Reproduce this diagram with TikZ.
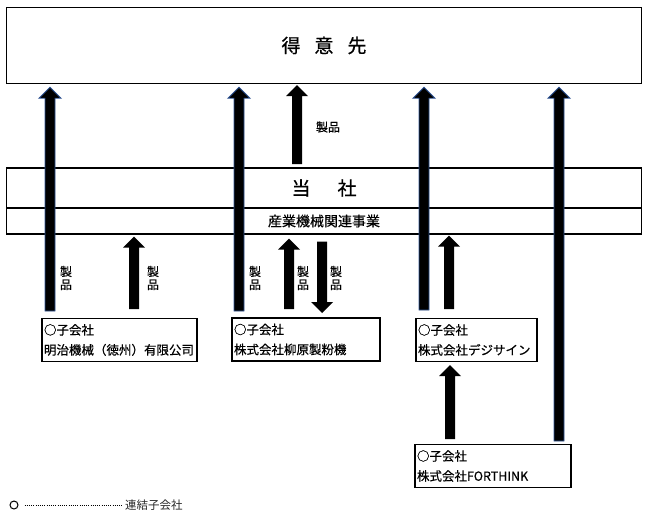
\documentclass[tikz,border=0pt]{standalone}
\usepackage{fontspec}
\setmainfont{Noto Sans CJK JP}
\newfontfamily\medfont{Noto Sans CJK JP}[FakeBold=0.5]
\usepackage{xcolor}
\usetikzlibrary{calc}
\definecolor{arrowblue}{RGB}{47,85,151}

\begin{document}
\begin{tikzpicture}[x=1pt,y=-1pt,
  box/.style={draw, line width=1.4pt, minimum width=635pt},
  sub/.style={draw, line width=1.4pt, align=left, inner sep=2pt, minimum height=43pt,
    font=\medfont\fontsize{12.5}{20}\selectfont},
  fat/.style={to path={let \p1=(\tikztostart), \p2=(\tikztotarget),
      \p3=($(\tikztotarget)!11pt!(\tikztostart)$) in
      (\x1-5pt,\y1) -- (\x1-5pt,\y3) -- (\x1-11pt,\y3) -- (\x2,\y2)
      -- (\x1+11pt,\y3) -- (\x1+5pt,\y3) -- (\x1+5pt,\y1) -- cycle}},
  bluearrow/.style={fat, fill=black, draw=arrowblue, line width=0.9pt},
  blackarrow/.style={fat, fill=black},
  vlabel/.style={align=center, inner sep=0pt, font=\medfont\fontsize{12}{13}\selectfont}]
  \useasboundingbox (0,0) rectangle (648,519);

  % boxes
  \node[box, minimum height=76pt] (tokui) at (324,45.5)
    {\medfont\fontsize{19}{19}\selectfont 得\hspace{14pt}意\hspace{14pt}先};
  \node[box, minimum height=40pt] (tosha) at (324,188)
    {\medfont\fontsize{19}{19}\selectfont 当\hspace{27pt}社};
  \node[box, minimum height=26pt, font=\medfont\fontsize{14}{14}\selectfont] (sangyo) at (324,221) {産業機械関連事業};

  \node[sub, text width=151pt] (m1) at (119.5,340) {○子会社\\明治機械（徳州）有限公司};
  \node[sub, text width=144pt] (m2) at (306,339.5) {○子会社\\株式会社柳原製粉機};
  \node[sub, text width=117pt] (m3) at (476.5,340) {○子会社\\株式会社デジサイン};
  \node[sub, text width=152pt] (m4) at (493,466) {○子会社\\株式会社FORTHINK};

  % arrows to the customers
  \foreach \x/\y [count=\i] in {50/311,239/311,424/310,559/441}{
    \coordinate (f\i) at (\x,\y);
    \draw[bluearrow] (f\i) to ($(f\i |- tokui.south)+(0,3)$);
  }
  \coordinate (b0) at (297,164);
  \path[blackarrow] (b0) to ($(b0 |- tokui.south)+(0,1)$);
  \coordinate (b1) at (134,309);
  \path[blackarrow] (b1) to ($(b1 |- sangyo.south)+(0,2)$);
  \coordinate (b2) at (289,309);
  \path[blackarrow] (b2) to ($(b2 |- sangyo.south)+(0,4)$);
  \coordinate (b3) at (322,313);
  \path[blackarrow] ($(b3 |- sangyo.south)+(0,7)$) to (b3);
  \coordinate (b4) at (449,309);
  \path[blackarrow] (b4) to ($(b4 |- sangyo.south)+(0,1)$);
  \coordinate (b5) at (450,439);
  \path[blackarrow] (b5) to ($(b5 |- m3.south)+(0,3)$);

  % labels
  \node[font=\medfont\fontsize{12}{12}\selectfont] (l0) at (328,127) {製品};
  \foreach \x [count=\i] in {66,153,255,303,336}
    \node[vlabel] (l\i) at (\x,278) {製\\品};

  % legend
  \node[circle, draw, line width=1pt, minimum size=8pt, inner sep=0pt] (lgc) at (14,505) {};
  \node[anchor=west, inner sep=2pt, text=black!85, font=\fontsize{11.5}{12}\selectfont] (lgt) at (123,505) {連結子会社};
  \draw[line width=0.8pt, dash pattern=on 0.8pt off 1.4pt, shorten <=6pt, shorten >=1pt] (lgc.east) -- (lgt.west);
\end{tikzpicture}
\end{document}
